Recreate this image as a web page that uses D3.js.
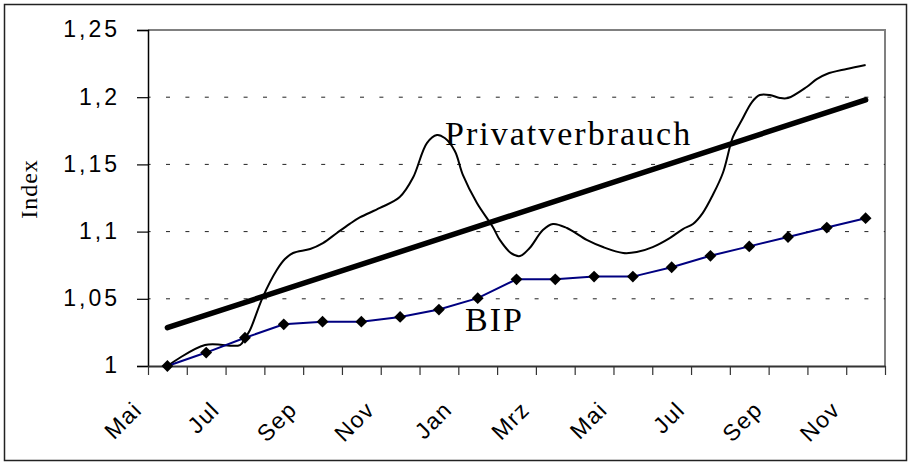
<!DOCTYPE html>
<html><head><meta charset="utf-8">
<script src="https://cdn.jsdelivr.net/npm/d3@7/dist/d3.min.js"></script>
<style>
html,body{margin:0;padding:0;background:#fff;}
svg{display:block;}
</style></head>
<body>
<svg id="chart" width="910" height="463"></svg>
<script>
// ---- data ----
const months = ["Mai","Jun","Jul","Aug","Sep","Okt","Nov","Dez","Jan","Feb","Mrz","Apr","Mai","Jun","Jul","Aug","Sep","Okt","Nov"];
const bipValues = [1.000,1.010,1.021,1.031,1.033,1.033,1.0365,1.042,1.0505,1.0645,1.0645,1.0665,1.0665,1.0735,1.082,1.089,1.096,1.103,1.110];
// Privatverbrauch: position in months (0 = first Mai) and index value
const pvPos = [0,0.97,1.87,2.0,2.13,2.46,2.82,3.03,3.24,3.68,4.01,4.37,4.70,4.96,5.48,5.99,6.33,6.69,6.95,7.15,7.41,7.62,7.98,8.39,8.57,8.86,9.09,9.34,9.68,9.94,10.30,10.81,11.23,11.75,12.10,12.51,12.95,13.29,13.55,13.80,14.06,14.32,14.58,14.81,15.07,15.27,15.53,15.79,16.0,16.48,16.74,17.0,17.51,18.0];
const pvVal = [1.000,1.0156,1.0156,1.0208,1.0268,1.0513,1.0714,1.0796,1.0841,1.0871,1.0915,1.099,1.1057,1.1105,1.1176,1.1257,1.140,1.1659,1.1719,1.1696,1.160,1.142,1.1213,1.1034,1.0938,1.084,1.0818,1.0878,1.1012,1.1057,1.1027,1.0938,1.0885,1.0841,1.0848,1.0885,1.0952,1.1019,1.1057,1.1138,1.1272,1.1436,1.1704,1.183,1.1964,1.2016,1.2016,1.1994,1.1994,1.2076,1.2135,1.2173,1.221,1.224];
// Trend line (straight)
const trendPos = [0, 18];
const trendVal = [1.0285, 1.198];
const yTicks = [1, 1.05, 1.1, 1.15, 1.2, 1.25];
const yTickLabels = ["1","1,05","1,1","1,15","1,2","1,25"];
const gridValues = [1.05, 1.1, 1.15, 1.2];

// ---- layout ----
const svg = d3.select("#chart");
const L = 148, R = 885, T = 30, B = 366;

const x = d3.scaleLinear().domain([-0.5, months.length - 0.5]).range([L, R]);
const y = d3.scaleLinear().domain([1, 1.25]).range([B, T]);

// outer frame
svg.append("rect").attr("x", 4.5).attr("y", 4.5).attr("width", 902).attr("height", 456)
  .attr("fill", "none").attr("stroke", "#222").attr("stroke-width", 1.5);

// plot border (top/right gray)
svg.append("path")
  .attr("d", `M${L},${T}H${R}V${B}`)
  .attr("fill", "none").attr("stroke", "#808080").attr("stroke-width", 2);

// gridlines
svg.append("g").selectAll("line").data(gridValues).join("line")
  .attr("x1", L).attr("x2", R)
  .attr("y1", d => y(d)).attr("y2", d => y(d))
  .attr("stroke", "#222").attr("stroke-width", 1)
  .attr("stroke-dasharray", "4,15.4").attr("stroke-dashoffset", 1.4);

// y axis
const yAxis = d3.axisLeft(y).tickValues(yTicks).tickSize(11)
  .tickFormat((d, i) => yTickLabels[i]);
const gy = svg.append("g").attr("transform", `translate(${L},0)`).call(yAxis);
gy.select(".domain").attr("stroke", "#000").attr("stroke-width", 1.5);
gy.selectAll(".tick line").attr("stroke", "#000").attr("stroke-width", 1.2);
gy.selectAll(".tick text")
  .attr("font-family", "'Liberation Sans', Arial, sans-serif")
  .attr("font-size", 23).attr("letter-spacing", 3)
  .attr("fill", "#000")
  .attr("x", -28).attr("dy", "0.3em");

// x axis ticks (category boundaries)
const boundaries = d3.range(months.length + 1).map(i => i - 0.5);
const xAxis = d3.axisBottom(x).tickValues(boundaries).tickSizeInner(9).tickSizeOuter(0).tickFormat("");
const gx = svg.append("g").attr("transform", `translate(0,${B})`).call(xAxis);
gx.select(".domain").attr("stroke", "#333").attr("stroke-width", 2);
gx.selectAll(".tick line").attr("stroke", "#333").attr("stroke-width", 1.2);

// x labels (every other month)
const labelIdx = d3.range(0, months.length, 2);
svg.append("g").selectAll("text").data(labelIdx).join("text")
  .attr("transform", i => `translate(${x(i) - 24},${411}) rotate(-45)`)
  .attr("text-anchor", "end")
  .attr("font-family", "'Liberation Sans', Arial, sans-serif")
  .attr("font-size", 23).attr("letter-spacing", 1.5)
  .attr("fill", "#000")
  .text(i => months[i]);

// y axis title
svg.append("text")
  .attr("transform", "translate(37,189) rotate(-90)")
  .attr("text-anchor", "middle")
  .attr("font-family", "'Liberation Serif', 'Times New Roman', serif")
  .attr("font-size", 24).attr("letter-spacing", 1)
  .attr("fill", "#000")
  .text("Index");

// trend line
const trendData = trendPos.map((p, i) => [p, trendVal[i]]);
svg.append("path")
  .attr("d", d3.line().x(d => x(d[0])).y(d => y(d[1]))(trendData))
  .attr("fill", "none").attr("stroke", "#000").attr("stroke-width", 5.5)
  .attr("stroke-linecap", "round");

// Privatverbrauch line
const pvData = pvPos.map((p, i) => [p, pvVal[i]]);
svg.append("path")
  .attr("d", d3.line().x(d => x(d[0])).y(d => y(d[1])).curve(d3.curveCatmullRom.alpha(0.5))(pvData))
  .attr("fill", "none").attr("stroke", "#000").attr("stroke-width", 2)
  .attr("stroke-linejoin", "round");

// BIP line
const bipData = bipValues.map((v, i) => [i, v]);
svg.append("path")
  .attr("d", d3.line().x(d => x(d[0])).y(d => y(d[1]))(bipData))
  .attr("fill", "none").attr("stroke", "#000080").attr("stroke-width", 2);

// BIP markers (diamonds = rotated squares)
const sq = d3.symbol().type(d3.symbolSquare).size(70);
svg.append("g").selectAll("path").data(bipData).join("path")
  .attr("d", sq)
  .attr("transform", d => `translate(${x(d[0])},${y(d[1])}) rotate(45)`)
  .attr("fill", "#000");

// series labels
svg.append("text")
  .attr("x", 445).attr("y", 145)
  .attr("font-family", "'Liberation Serif', 'Times New Roman', serif")
  .attr("font-size", 34).attr("letter-spacing", 2)
  .attr("fill", "#000")
  .text("Privatverbrauch");
svg.append("text")
  .attr("x", 465).attr("y", 331)
  .attr("font-family", "'Liberation Serif', 'Times New Roman', serif")
  .attr("font-size", 34).attr("letter-spacing", 2)
  .attr("fill", "#000")
  .text("BIP");
</script>
</body></html>
